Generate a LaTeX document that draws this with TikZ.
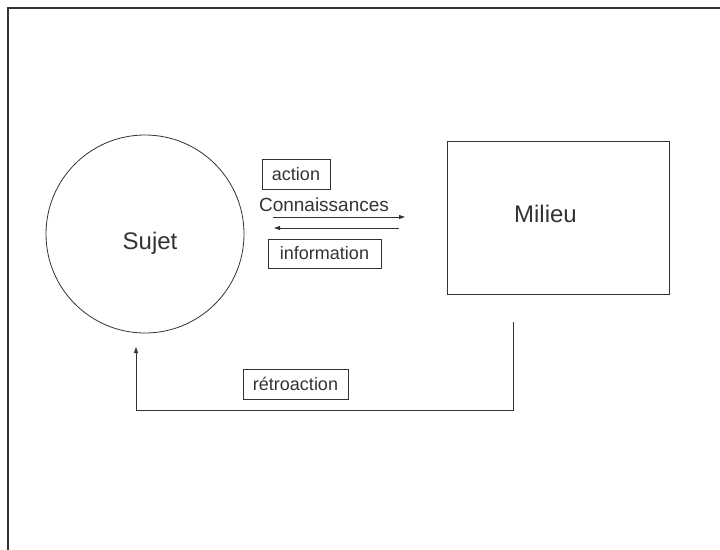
\documentclass[tikz,border=0pt]{standalone}
\usepackage{fontspec}
\setmainfont{Liberation Sans}
\usetikzlibrary{arrows.meta}
\definecolor{trait}{HTML}{333333}
\tikzset{
  forme/.style={draw=trait, line width=0.8pt, inner sep=0pt},
  grand/.style={text=trait, font=\fontsize{24}{28}\selectfont, inner sep=0pt},
  petit/.style={text=trait, font=\fontsize{18}{21}\selectfont, inner sep=0pt},
  boite/.style={petit, draw=trait, line width=0.8pt},
  fleche/.style={draw=trait, line width=0.8pt, -{Triangle[length=6pt,width=4pt]}}
}
\begin{document}
\begin{tikzpicture}[x=1pt,y=-1pt]
	\useasboundingbox (0,0) rectangle (720,549);
	\clip (0,0) rectangle (720,549);
	\draw[trait, line width=2pt] (8,560) -- (8,8) -- (730,8);
	\node[forme, circle, minimum size=198pt] (cercle) at (145,234) {};
	\node[grand, anchor=base] (sujet) at (150,249) {Sujet};
	\node[forme, minimum width=222pt, minimum height=153pt] (cadre) at (558,217.5) {};
	\node[grand, anchor=base] (milieu) at (545.5,222) {Milieu};
	\node[boite, minimum width=68pt, minimum height=30pt] (action) at (296,174) {action};
	\node[petit, font=\fontsize{19}{22}\selectfont, anchor=base] (conn) at (324,211.7) {Connaissances};
	\node[boite, minimum width=113pt, minimum height=29pt] (info) at (324.5,253.5) {information};
	\node[boite, minimum width=105pt, minimum height=30pt] (retro) at (295.5,384) {rétroaction};
	\coordinate (a1) at (273,217);
	\coordinate (a2) at (405,217);
	\coordinate (i1) at (399,228);
	\coordinate (i2) at (274,228);
	\coordinate (r1) at (513,322);
	\coordinate (r2) at (513,410);
	\coordinate (r3) at (136,410);
	\coordinate (r4) at (136,347);
	\draw[fleche] (a1) -- (a2);
	\draw[fleche] (i1) -- (i2);
	\draw[fleche] (r1) -- (r2) -- (r3) -- (r4);
\end{tikzpicture}
\end{document}
